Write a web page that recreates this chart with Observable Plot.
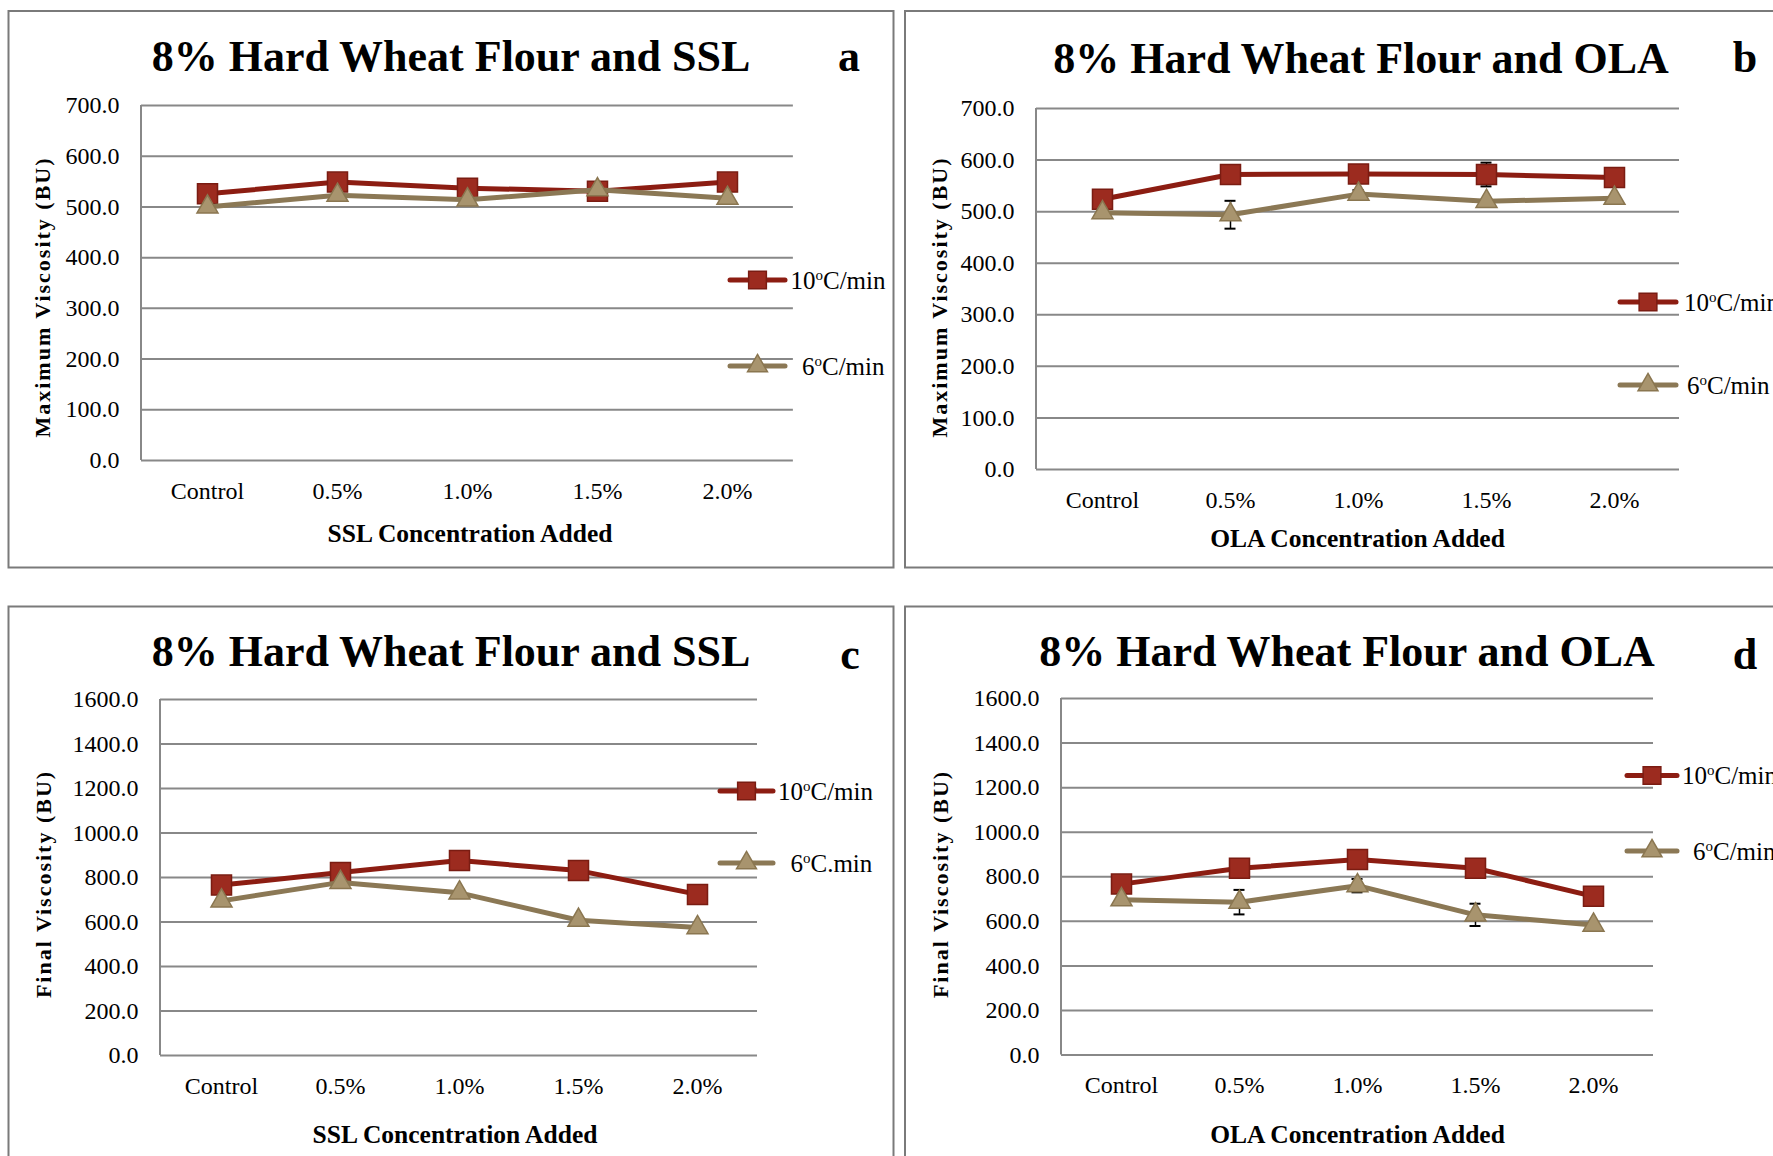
<!DOCTYPE html>
<html>
<head>
<meta charset="utf-8">
<script src="https://cdn.jsdelivr.net/npm/d3@7"></script>
<script src="https://cdn.jsdelivr.net/npm/@observablehq/plot@0.6"></script>
<style>
  html, body { margin: 0; padding: 0; background: #fff; }
  body { width: 1773px; height: 1156px; overflow: hidden; position: relative; font-family: "Liberation Serif", serif; }
  svg.overlay { position: absolute; left: 0; top: 0; pointer-events: none; }
</style>
</head>
<body>
<script>
// ---------------- DATA ----------------
const categories = ["Control", "0.5%", "1.0%", "1.5%", "2.0%"];
const ticksMax = [0, 100, 200, 300, 400, 500, 600, 700];
const ticksFinal = [0, 200, 400, 600, 800, 1000, 1200, 1400, 1600];

// (a) Maximum viscosity, SSL
const maxSSL10 = [526, 549, 537, 531, 549];
const maxSSL6  = [500, 523, 514, 534, 517];
// (b) Maximum viscosity, OLA
const maxOLA10 = [524, 572, 573, 572, 566];
const maxOLA6  = [498, 494, 534, 520, 526];
const maxOLA10Err = [0, 0, 0, 23, 0];
const maxOLA6Err  = [0, 27, 8, 0, 0];
// (c) Final viscosity, SSL
const finSSL10 = [766, 822, 876, 831, 724];
const finSSL6  = [695, 778, 731, 608, 575];
// (d) Final viscosity, OLA
const finOLA10 = [767, 838, 877, 838, 712];
const finOLA6  = [697, 686, 760, 629, 583];
const finOLA6Err = [0, 55, 30, 50, 0];
const noErr = [0, 0, 0, 0, 0];

const titleSSL = "8% Hard Wheat Flour and SSL";
const titleOLA = "8% Hard Wheat Flour and OLA";
const xTitleSSL = "SSL Concentration Added";
const xTitleOLA = "OLA Concentration Added";
const yTitleMax = "Maximum Viscosity (BU)";
const yTitleFinal = "Final Viscosity (BU)";
const panelLetters = ["a", "b", "c", "d"];
const legend10 = ["10", "o", "C/min"];
const legend6 = ["6", "o", "C/min"];
const legend6c = ["6", "o", "C.min"];

// ---------------- STYLE ----------------
const RED_LINE = "#8c1d12", RED_FILL = "#9c2b1f", RED_STROKE = "#7a1c12";
const TAN_LINE = "#8b7855", TAN_FILL = "#a8946e", TAN_STROKE = "#8a7650";
const GRID = "#888888";
const FONT = "'Liberation Serif', 'Times New Roman', serif";

// layout (positions in page pixels)
const panels = [
  { letter: panelLetters[0], title: titleSSL, xTitle: xTitleSSL, yTitle: yTitleMax, ticks: ticksMax,
    s10: maxSSL10, s6: maxSSL6, e10: noErr, e6: noErr, leg: [legend10, legend6],
    box: [8.5, 11, 885, 556.5], plot: [140.7, 105, 651.9, 355],
    titleX: 451, titleY: 71, letterX: 849, letterY: 71, xtX: 470, xtY: 542, ytX: 49.5, ytY: 297,
    leg10: [730, 785, 280, 790.5], leg6: [730, 785, 366, 802] },
  { letter: panelLetters[1], title: titleOLA, xTitle: xTitleOLA, yTitle: yTitleMax, ticks: ticksMax,
    s10: maxOLA10, s6: maxOLA6, e10: maxOLA10Err, e6: maxOLA6Err, leg: [legend10, legend6],
    box: [905, 11, 900, 556.5], plot: [1036, 107.5, 643, 361],
    titleX: 1361, titleY: 72.5, letterX: 1745, letterY: 72, xtX: 1357.5, xtY: 547, ytX: 946.5, ytY: 297,
    leg10: [1620, 1676, 302, 1684], leg6: [1620, 1676, 385, 1687] },
  { letter: panelLetters[2], title: titleSSL, xTitle: xTitleSSL, yTitle: yTitleFinal, ticks: ticksFinal,
    s10: finSSL10, s6: finSSL6, e10: noErr, e6: noErr, leg: [legend10, legend6c],
    box: [8.5, 606.5, 885, 600], plot: [159.5, 699, 597, 356],
    titleX: 451, titleY: 665.5, letterX: 850, letterY: 669, xtX: 455, xtY: 1142.5, ytX: 51, ytY: 884,
    leg10: [720, 773, 791, 778], leg6: [720, 773, 863, 790.5] },
  { letter: panelLetters[3], title: titleOLA, xTitle: xTitleOLA, yTitle: yTitleFinal, ticks: ticksFinal,
    s10: finOLA10, s6: finOLA6, e10: noErr, e6: finOLA6Err, leg: [legend10, legend6],
    box: [905, 606.5, 900, 600], plot: [1061, 698, 592, 356.5],
    titleX: 1347, titleY: 665.5, letterX: 1745, letterY: 668.5, xtX: 1357.5, xtY: 1142.5, ytX: 948, ytY: 884,
    leg10: [1627, 1677, 775.5, 1682], leg6: [1627, 1677, 851, 1693] }
];

function leftAxisLine() {
  return (index, scales, values, dims) => {
    return d3.create("svg:line")
      .attr("x1", dims.marginLeft).attr("x2", dims.marginLeft)
      .attr("y1", dims.marginTop).attr("y2", dims.height - dims.marginBottom)
      .attr("stroke", GRID).attr("stroke-width", 2).node();
  };
}

function errMarks(rows) {
  const r = rows.filter(d => d.e > 0);
  return [
    Plot.ruleX(r, { x: "cat", y1: d => d.v - d.e, y2: d => d.v + d.e, stroke: "#000", strokeWidth: 1.5 }),
    Plot.ruleY(r, { y: d => d.v + d.e, x1: "cat", x2: "cat", insetLeft: -5.5, insetRight: -5.5, stroke: "#000", strokeWidth: 2 }),
    Plot.ruleY(r, { y: d => d.v - d.e, x1: "cat", x2: "cat", insetLeft: -5.5, insetRight: -5.5, stroke: "#000", strokeWidth: 2 })
  ];
}

const mL = 110, mR = 20, mT = 20, mB = 60;

for (const p of panels) {
  const [px, py, pw, ph] = p.plot;
  const rows10 = categories.map((c, i) => ({ cat: c, v: p.s10[i], e: p.e10[i] }));
  const rows6 = categories.map((c, i) => ({ cat: c, v: p.s6[i], e: p.e6[i] }));
  const ymax = p.ticks[p.ticks.length - 1];
  const chart = Plot.plot({
    width: pw + mL + mR, height: ph + mT + mB,
    marginLeft: mL, marginRight: mR, marginTop: mT, marginBottom: mB,
    style: { fontFamily: FONT, fontSize: "24px", color: "#000", background: "transparent", overflow: "visible" },
    x: { type: "point", domain: categories, padding: 0.5, label: null },
    y: { domain: [0, ymax], label: null },
    marks: [
      Plot.gridY(p.ticks, { stroke: GRID, strokeOpacity: 1, strokeWidth: 2 }),
      leftAxisLine(),
      Plot.axisY(p.ticks, { tickSize: 0, tickPadding: 22, tickFormat: d3.format(".1f"), label: null, fontSize: 24 }),
      Plot.axisX({ tickSize: 0, tickPadding: 21, label: null, fontSize: 24 }),
      Plot.line(rows10, { x: "cat", y: "v", stroke: RED_LINE, strokeWidth: 5, strokeLinejoin: "round" }),
      ...errMarks(rows10),
      Plot.dot(rows10, { x: "cat", y: "v", symbol: "square", r: 11.3, fill: RED_FILL, stroke: RED_STROKE, strokeWidth: 1.5 }),
      Plot.line(rows6, { x: "cat", y: "v", stroke: TAN_LINE, strokeWidth: 5, strokeLinejoin: "round" }),
      ...errMarks(rows6),
      Plot.dot(rows6, { x: "cat", y: "v", symbol: "triangle", r: 7.8, fill: TAN_FILL, stroke: TAN_STROKE, strokeWidth: 1.5 })
    ]
  });
  chart.style.position = "absolute";
  chart.style.left = (px - mL) + "px";
  chart.style.top = (py - mT) + "px";
  document.body.appendChild(chart);
}

// ---------------- OVERLAY: frames, titles, legends ----------------
const ov = d3.select(document.body).append("svg")
  .attr("class", "overlay").attr("width", 1773).attr("height", 1156)
  .style("font-family", FONT);

for (const p of panels) {
  const [bx, by, bw, bh] = p.box;
  ov.append("rect").attr("x", bx).attr("y", by).attr("width", bw).attr("height", bh)
    .attr("fill", "none").attr("stroke", "#7a7a7a").attr("stroke-width", 2);

  ov.append("text").attr("x", p.titleX).attr("y", p.titleY).attr("text-anchor", "middle")
    .attr("font-weight", "bold").attr("font-size", 44).attr("fill", "#000").text(p.title);
  ov.append("text").attr("x", p.letterX).attr("y", p.letterY).attr("text-anchor", "middle")
    .attr("font-weight", "bold").attr("font-size", 44).attr("fill", "#000").text(p.letter);

  ov.append("text").attr("x", p.xtX).attr("y", p.xtY).attr("text-anchor", "middle")
    .attr("font-weight", "bold").attr("font-size", 25.5).attr("fill", "#000").text(p.xTitle);

  ov.append("text").attr("transform", `translate(${p.ytX},${p.ytY}) rotate(-90)`)
    .attr("text-anchor", "middle").attr("font-weight", "bold").attr("font-size", 22)
    .attr("letter-spacing", 2).attr("fill", "#000").text(p.yTitle);

  // legend
  const items = [
    { g: p.leg10, lab: p.leg[0], line: RED_LINE, fill: RED_FILL, stroke: RED_STROKE, sym: d3.symbolSquare, r: 10 },
    { g: p.leg6, lab: p.leg[1], line: TAN_LINE, fill: TAN_FILL, stroke: TAN_STROKE, sym: d3.symbolTriangle, r: 7.4 }
  ];
  for (const it of items) {
    const [x1, x2, y, tx] = it.g;
    ov.append("line").attr("x1", x1).attr("x2", x2).attr("y1", y).attr("y2", y)
      .attr("stroke", it.line).attr("stroke-width", 5).attr("stroke-linecap", "round");
    ov.append("path").attr("transform", `translate(${(x1 + x2) / 2},${y})`)
      .attr("d", d3.symbol(it.sym, Math.PI * it.r * it.r)())
      .attr("fill", it.fill).attr("stroke", it.stroke).attr("stroke-width", 1.5);
    const t = ov.append("text").attr("x", tx).attr("y", y + 8.5).attr("font-size", 25).attr("fill", "#000");
    t.append("tspan").text(it.lab[0]);
    t.append("tspan").attr("font-size", 15).attr("dy", -9).text(it.lab[1]);
    t.append("tspan").attr("dy", 9).text(it.lab[2]);
  }
}
</script>
</body>
</html>
